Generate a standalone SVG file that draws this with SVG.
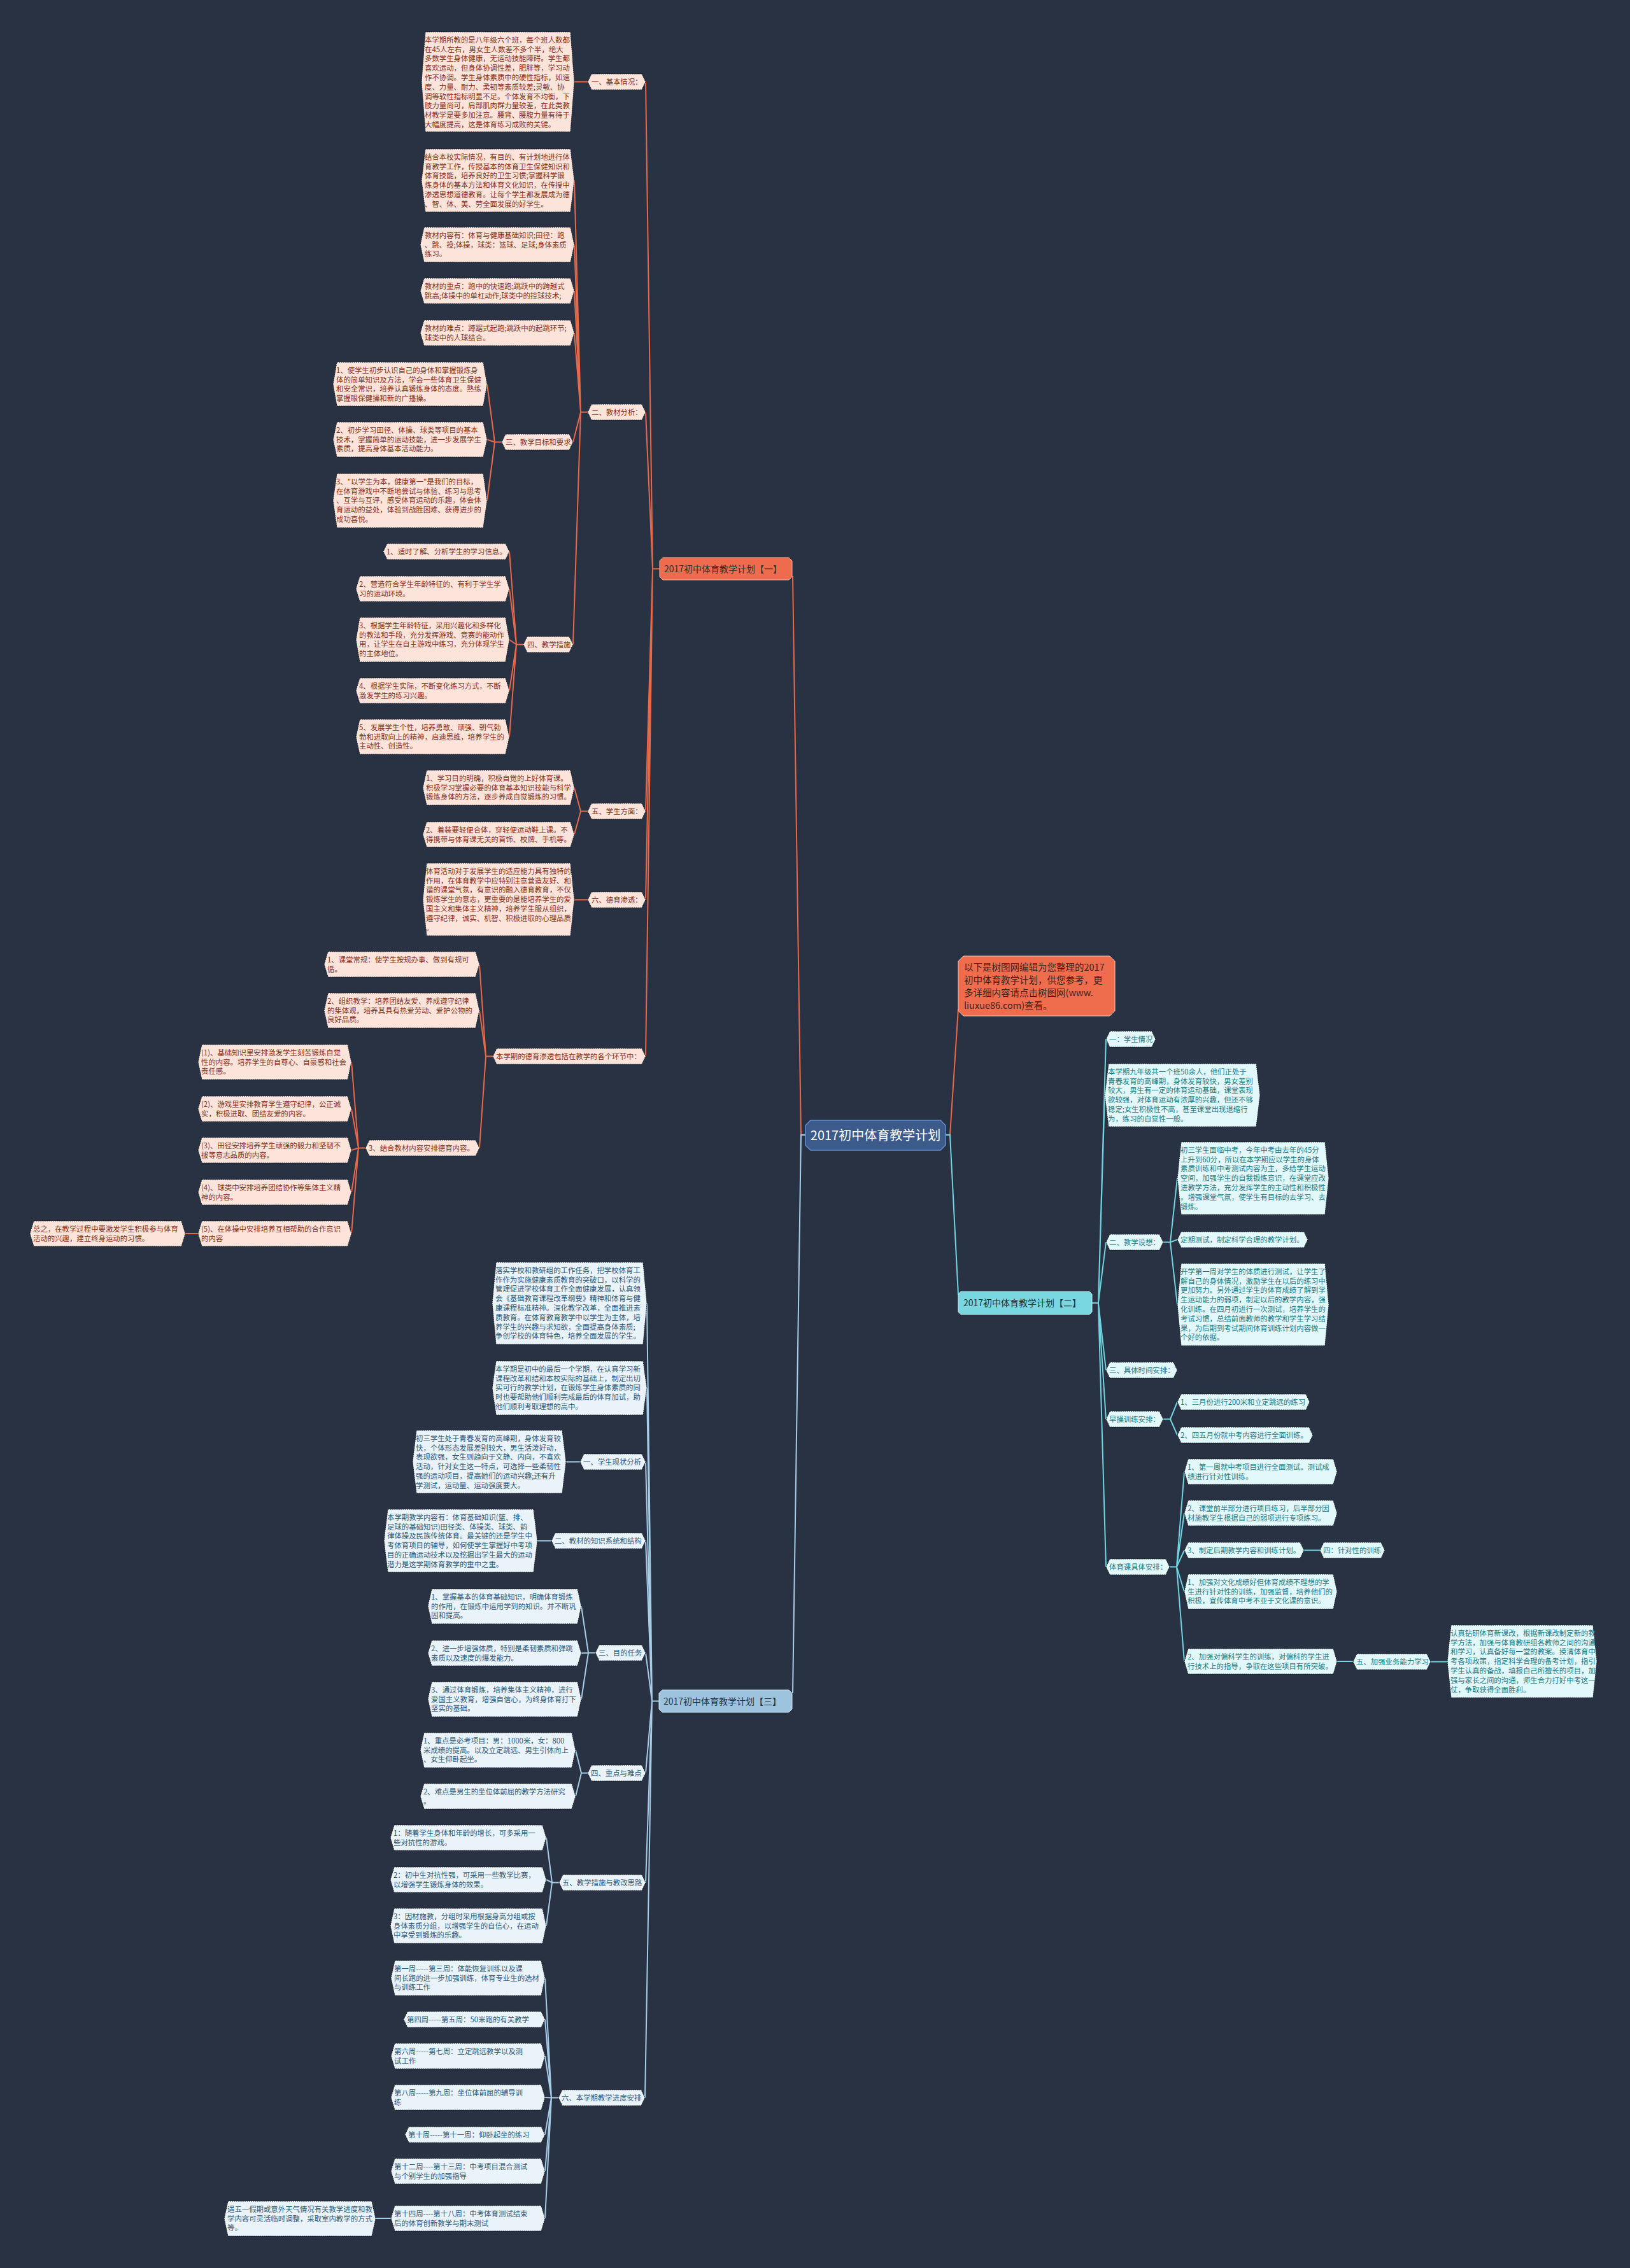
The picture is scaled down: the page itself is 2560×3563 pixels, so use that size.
<svg xmlns="http://www.w3.org/2000/svg" width="2560" height="3563" viewBox="0 0 2560 3563">
<style>
text{font-family:"Noto Sans CJK SC","Noto Sans",sans-serif;font-size:11.4px}
.n1{fill:#fde4db;stroke:#1c222d;stroke-width:1;stroke-dasharray:2 1}
.n2{fill:#e3f8fa;stroke:#1c222d;stroke-width:1;stroke-dasharray:2 1}
.n3{fill:#eaf3f9;stroke:#1c222d;stroke-width:1;stroke-dasharray:2 1}
.t1{fill:#8a2f17}
.t2{fill:#1b7b86}
.t3{fill:#2c5a7c}
.c1{fill:none;stroke:#e8694a;stroke-width:2;stroke-linejoin:round}
.c2{fill:none;stroke:#6fd4df;stroke-width:2;stroke-linejoin:round}
.c3{fill:none;stroke:#a7cce6;stroke-width:2;stroke-linejoin:round}
.m{font-size:14px}
</style>
<rect width="2560" height="3563" fill="#293243"/>

<g id="connectors">
<path class="c1" stroke-width="4" d="M1265,1783 H1258 L1245,905"/>
<path class="c3" stroke-width="4" d="M1265,1783 H1258 L1245,2660"/>
<path class="c1" stroke-width="4" d="M1485,1783 H1492 L1505,1585"/>
<path class="c2" stroke-width="4" d="M1485,1783 H1492 L1505,2034"/>
<!-- plan1 -->
<path class="c1" stroke-width="2.5" d="M1036,893.5 H1025 L1014,128.5 M1025,893.5 L1014,647.5 M1025,893.5 L1014,1274.5 M1025,893.5 L1014,1413.5 M1025,893.5 L1014,1659.5"/>
<path class="c1" d="M923,128.5 H902"/>
<path class="c1" d="M923,647.5 H912 L902,283.5 M912,647.5 L902,384.5 M912,647.5 L902,457 M912,647.5 L902,523 M912,647.5 L900,694.5 M912,647.5 L900,1012.5"/>
<path class="c1" d="M788,694.5 H777 L765,603.5 M777,694.5 L765,690.5 M777,694.5 L765,786.5"/>
<path class="c1" d="M822,1012.5 H811 L800,866.5 M811,1012.5 L800,925 M811,1012.5 L800,1005 M811,1012.5 L800,1085 M811,1012.5 L800,1157.5"/>
<path class="c1" d="M923,1274.5 H912 L902,1237.5 M912,1274.5 L902,1311"/>
<path class="c1" d="M923,1413.5 H902"/>
<path class="c1" d="M774,1659.5 H763 L753,1515 M763,1659.5 L753,1587.5 M763,1659.5 L753,1803.5"/>
<path class="c1" d="M574,1803.5 H563 L552,1668.5 M563,1803.5 L552,1742 M563,1803.5 L552,1807 M563,1803.5 L552,1873 M563,1803.5 L552,1938"/>
<path class="c1" d="M311,1938 H291"/>
<!-- plan2 -->
<path class="c2" stroke-width="2.5" d="M1714,2047 H1725 L1737,1632.5 M1725,2047 L1735,1720.5 M1725,2047 L1737,1951.5 M1725,2047 L1737,2152.5 M1725,2047 L1737,2229.5 M1725,2047 L1737,2461.5"/>
<path class="c2" d="M1827,1951.5 H1838 L1849,1851 M1838,1951.5 L1849,1947.5 M1838,1951.5 L1849,2049.5"/>
<path class="c2" d="M1827,2229.5 H1838 L1849,2202.5 M1838,2229.5 L1849,2254.5"/>
<path class="c2" d="M1837,2461.5 H1848 L1860,2312 M1848,2461.5 L1860,2377 M1848,2461.5 L1860,2435.5 M1848,2461.5 L1860,2500.5 M1848,2461.5 L1860,2610"/>
<path class="c2" d="M2048,2435.5 H2073 M2100,2610 H2125 M2247,2610.5 H2273"/>
<!-- plan3 -->
<path class="c3" stroke-width="2.5" d="M1035,2672.5 H1024 L1016,2047.5 M1024,2672.5 L1016,2180.5 M1024,2672.5 L1014,2296.5 M1024,2672.5 L1014,2420.5 M1024,2672.5 L1014,2596.5 M1024,2672.5 L1014,2785.5 M1024,2672.5 L1014,2957.5 M1024,2672.5 L1013,3295.5"/>
<path class="c3" d="M911,2296.5 H889 M866,2420.5 H844"/>
<path class="c3" d="M935,2596.5 H924 L913,2523.5 M924,2596.5 L913,2597 M924,2596.5 L913,2669.5"/>
<path class="c3" d="M923,2785.5 H913 L904,2749.5 M913,2785.5 L904,2822"/>
<path class="c3" d="M878,2957.5 H867 L858,2887 M867,2957.5 L858,2953 M867,2957.5 L858,3025.5"/>
<path class="c3" d="M877,3295.5 H866 L856,3107.5 M866,3295.5 L856,3172.5 M866,3295.5 L856,3230 M866,3295.5 L856,3295 M866,3295.5 L856,3353.5 M866,3295.5 L856,3411 M866,3295.5 L856,3485"/>
<path class="c3" d="M614,3485 H590"/>
</g>

<g id="root">
<polygon points="1273,1760 1477,1760 1485,1768 1485,1799 1477,1807 1273,1807 1265,1799 1265,1768" fill="#3c5a8a" stroke="#5f8fd6" stroke-width="1.5"/>
<text x="1375" y="1791" text-anchor="middle" fill="#ffffff" style="font-size:20px">2017初中体育教学计划</text>
</g>
<g id="intro">
<polygon points="1513,1502 1743,1502 1751,1510 1751,1588 1743,1596 1513,1596 1505,1588 1505,1510" fill="#ef6c4c" stroke="#f7c9bd" stroke-width="1"/>
<text x="1514" y="1524.5" fill="#3a2520" style="font-size:14.5px"><tspan x="1514">以下是树图网编辑为您整理的2017</tspan><tspan x="1514" dy="20">初中体育教学计划，供您参考，更</tspan><tspan x="1514" dy="20">多详细内容请点击树图网(www.</tspan><tspan x="1514" dy="20">liuxue86.com)查看。</tspan></text>
</g>

<g id="plan1">
<polygon points="1041,876 1239,876 1244,881 1244,906 1239,911 1041,911 1036,906 1036,881" fill="#ee6b4e" stroke="#f6b3a2" stroke-width="1"/>
<text class="m" x="1043" y="898.8" fill="#2f2f2f">2017初中体育教学计划【一】</text>
</g>
<g id="p1-basic"><polygon class="n1" points="929,116 1008,116 1014,128.5 1008,141 929,141 923,128.5"/><text class="t1" x="929" y="132.8">一、基本情况：</text></g>
<g id="p1-basic-text"><polygon class="n1" points="668,50 896,50 902,128.5 896,207 668,207 662,128.5"/><text class="t1" x="667" y="66.7"><tspan x="667">本学期所教的是八年级六个班，每个班人数都</tspan><tspan x="667" dy="14.8">在45人左右，男女生人数差不多个半，绝大</tspan><tspan x="667" dy="14.8">多数学生身体健康，无运动技能障碍。学生都</tspan><tspan x="667" dy="14.8">喜欢运动，但身体协调性差，肥胖等，学习动</tspan><tspan x="667" dy="14.8">作不协调。学生身体素质中的硬性指标，如速</tspan><tspan x="667" dy="14.8">度、力量、耐力、柔韧等素质较差;灵敏、协</tspan><tspan x="667" dy="14.8">调等软性指标明显不足。个体发育不均衡，下</tspan><tspan x="667" dy="14.8">肢力量尚可，肩部肌肉群力量较差，在此类教</tspan><tspan x="667" dy="14.8">材教学是要多加注意。腰背、腰腹力量有待于</tspan><tspan x="667" dy="14.8">大幅度提高，这是体育练习成败的关键。</tspan></text></g>
<g id="p1-mat"><polygon class="n1" points="929,635 1008,635 1014,647.5 1008,660 929,660 923,647.5"/><text class="t1" x="929" y="651.8">二、教材分析：</text></g>
<g id="p1-mat-a"><polygon class="n1" points="668,234 896,234 902,283.5 896,333 668,333 662,283.5"/><text class="t1" x="667" y="250.7"><tspan x="667">结合本校实际情况，有目的、有计划地进行体</tspan><tspan x="667" dy="14.8">育教学工作，传授基本的体育卫生保健知识和</tspan><tspan x="667" dy="14.8">体育技能，培养良好的卫生习惯;掌握科学锻</tspan><tspan x="667" dy="14.8">炼身体的基本方法和体育文化知识，在传授中</tspan><tspan x="667" dy="14.8">渗透思想道德教育。让每个学生都发展成为德</tspan><tspan x="667" dy="14.8">、智、体、美、劳全面发展的好学生。</tspan></text></g>
<g id="p1-mat-b"><polygon class="n1" points="666,357 896,357 902,384.5 896,412 666,412 660,384.5"/><text class="t1" x="667" y="373.7"><tspan x="667">教材内容有：体育与健康基础知识;田径：跑</tspan><tspan x="667" dy="14.8">、跳、投;体操，球类：篮球、足球;身体素质</tspan><tspan x="667" dy="14.8">练习。</tspan></text></g>
<g id="p1-mat-c"><polygon class="n1" points="666,437 896,437 902,457 896,477 666,477 660,457"/><text class="t1" x="667" y="453.7"><tspan x="667">教材的重点：跑中的快速跑;跳跃中的跨越式</tspan><tspan x="667" dy="14.8">跳高;体操中的单杠动作;球类中的控球技术;</tspan></text></g>
<g id="p1-mat-d"><polygon class="n1" points="666,503 896,503 902,523 896,543 666,543 660,523"/><text class="t1" x="667" y="519.7"><tspan x="667">教材的难点：蹲踞式起跑;跳跃中的起跳环节;</tspan><tspan x="667" dy="14.8">球类中的人球结合。</tspan></text></g>
<g id="p1-goal"><polygon class="n1" points="794,682 894,682 900,694.5 894,707 794,707 788,694.5"/><text class="t1" x="794" y="698.8">三、教学目标和要求</text></g>
<g id="p1-goal-1"><polygon class="n1" points="529,569 759,569 765,603.5 759,638 529,638 523,603.5"/><text class="t1" x="528" y="585.7"><tspan x="528">1、使学生初步认识自己的身体和掌握锻炼身</tspan><tspan x="528" dy="14.8">体的简单知识及方法，学会一些体育卫生保健</tspan><tspan x="528" dy="14.8">和安全常识，培养认真锻炼身体的态度。熟练</tspan><tspan x="528" dy="14.8">掌握眼保健操和新的广播操。</tspan></text></g>
<g id="p1-goal-2"><polygon class="n1" points="529,663 759,663 765,690.5 759,718 529,718 523,690.5"/><text class="t1" x="528" y="679.7"><tspan x="528">2、初步学习田径、体操、球类等项目的基本</tspan><tspan x="528" dy="14.8">技术，掌握简单的运动技能，进一步发展学生</tspan><tspan x="528" dy="14.8">素质，提高身体基本活动能力。</tspan></text></g>
<g id="p1-goal-3"><polygon class="n1" points="529,744 759,744 765,786.5 759,829 529,829 523,786.5"/><text class="t1" x="528" y="760.7"><tspan x="528">3、"以学生为本，健康第一"是我们的目标，</tspan><tspan x="528" dy="14.8">在体育游戏中不断地尝试与体验、练习与思考</tspan><tspan x="528" dy="14.8">、互学与互评，感受体育运动的乐趣，体会体</tspan><tspan x="528" dy="14.8">育运动的益处，体验到战胜困难、获得进步的</tspan><tspan x="528" dy="14.8">成功喜悦。</tspan></text></g>
<g id="p1-meas"><polygon class="n1" points="828,1000 894,1000 900,1012.5 894,1025 828,1025 822,1012.5"/><text class="t1" x="828" y="1016.8">四、教学措施</text></g>
<g id="p1-meas-1"><polygon class="n1" points="608,854 794,854 800,866.5 794,879 608,879 602,866.5"/><text class="t1" x="607" y="870.8">1、适时了解、分析学生的学习信息。</text></g>
<g id="p1-meas-2"><polygon class="n1" points="565,905 794,905 800,925 794,945 565,945 559,925"/><text class="t1" x="564" y="921.7"><tspan x="564">2、营造符合学生年龄特征的、有利于学生学</tspan><tspan x="564" dy="14.8">习的运动环境。</tspan></text></g>
<g id="p1-meas-3"><polygon class="n1" points="565,970 794,970 800,1005 794,1040 565,1040 559,1005"/><text class="t1" x="564" y="986.7"><tspan x="564">3、根据学生年龄特征，采用兴趣化和多样化</tspan><tspan x="564" dy="14.8">的教法和手段，充分发挥游戏、竞赛的能动作</tspan><tspan x="564" dy="14.8">用，让学生在自主游戏中练习，充分体现学生</tspan><tspan x="564" dy="14.8">的主体地位。</tspan></text></g>
<g id="p1-meas-4"><polygon class="n1" points="565,1065 794,1065 800,1085 794,1105 565,1105 559,1085"/><text class="t1" x="564" y="1081.7"><tspan x="564">4、根据学生实际，不断变化练习方式，不断</tspan><tspan x="564" dy="14.8">激发学生的练习兴趣。</tspan></text></g>
<g id="p1-meas-5"><polygon class="n1" points="565,1130 794,1130 800,1157.5 794,1185 565,1185 559,1157.5"/><text class="t1" x="564" y="1146.7"><tspan x="564">5、发展学生个性，培养勇敢、顽强、朝气勃</tspan><tspan x="564" dy="14.8">勃和进取向上的精神，启迪思维，培养学生的</tspan><tspan x="564" dy="14.8">主动性、创造性。</tspan></text></g>
<g id="p1-stu"><polygon class="n1" points="929,1262 1008,1262 1014,1274.5 1008,1287 929,1287 923,1274.5"/><text class="t1" x="929" y="1278.8">五、学生方面：</text></g>
<g id="p1-stu-1"><polygon class="n1" points="670,1210 896,1210 902,1237.5 896,1265 670,1265 664,1237.5"/><text class="t1" x="669" y="1226.7"><tspan x="669">1、学习目的明确，积极自觉的上好体育课。</tspan><tspan x="669" dy="14.8">积极学习掌握必要的体育基本知识技能与科学</tspan><tspan x="669" dy="14.8">锻炼身体的方法，逐步养成自觉锻炼的习惯。</tspan></text></g>
<g id="p1-stu-2"><polygon class="n1" points="670,1291 896,1291 902,1311 896,1331 670,1331 664,1311"/><text class="t1" x="669" y="1307.7"><tspan x="669">2、着装要轻便合体，穿轻便运动鞋上课。不</tspan><tspan x="669" dy="14.8">得携带与体育课无关的首饰、校牌、手机等。</tspan></text></g>
<g id="p1-moral"><polygon class="n1" points="929,1401 1008,1401 1014,1413.5 1008,1426 929,1426 923,1413.5"/><text class="t1" x="929" y="1417.8">六、德育渗透：</text></g>
<g id="p1-moral-text"><polygon class="n1" points="670,1356 896,1356 902,1413 896,1470 670,1470 664,1413"/><text class="t1" x="669" y="1372.7"><tspan x="669">体育活动对于发展学生的适应能力具有独特的</tspan><tspan x="669" dy="14.8">作用，在体育教学中应特别注意营造友好、和</tspan><tspan x="669" dy="14.8">谐的课堂气氛，有意识的融入德育教育，不仅</tspan><tspan x="669" dy="14.8">锻炼学生的意志，更重要的是能培养学生的爱</tspan><tspan x="669" dy="14.8">国主义和集体主义精神，培养学生服从组织，</tspan><tspan x="669" dy="14.8">遵守纪律，诚实、机智、积极进取的心理品质</tspan><tspan x="669" dy="14.8">。</tspan></text></g>
<g id="p1-eth"><polygon class="n1" points="780,1647 1008,1647 1014,1659.5 1008,1672 780,1672 774,1659.5"/><text class="t1" x="779" y="1663.8">本学期的德育渗透包括在教学的各个环节中：</text></g>
<g id="p1-eth-1"><polygon class="n1" points="515,1495 747,1495 753,1515 747,1535 515,1535 509,1515"/><text class="t1" x="514" y="1511.7"><tspan x="514">1、课堂常规：使学生按规办事、做到有规可</tspan><tspan x="514" dy="14.8">循。</tspan></text></g>
<g id="p1-eth-2"><polygon class="n1" points="515,1560 747,1560 753,1587.5 747,1615 515,1615 509,1587.5"/><text class="t1" x="514" y="1576.7"><tspan x="514">2、组织教学：培养团结友爱、养成遵守纪律</tspan><tspan x="514" dy="14.8">的集体观，培养其具有热爱劳动、爱护公物的</tspan><tspan x="514" dy="14.8">良好品质。</tspan></text></g>
<g id="p1-eth-3"><polygon class="n1" points="580,1791 747,1791 753,1803.5 747,1816 580,1816 574,1803.5"/><text class="t1" x="579" y="1807.8">3、结合教材内容安排德育内容。</text></g>
<g id="p1-eth-3a"><polygon class="n1" points="317,1641 546,1641 552,1668.5 546,1696 317,1696 311,1668.5"/><text class="t1" x="316" y="1657.7"><tspan x="316">(1)、基础知识里安排激发学生刻苦锻炼自觉</tspan><tspan x="316" dy="14.8">性的内容。培养学生的自尊心、自豪感和社会</tspan><tspan x="316" dy="14.8">责任感。</tspan></text></g>
<g id="p1-eth-3b"><polygon class="n1" points="317,1722 546,1722 552,1742 546,1762 317,1762 311,1742"/><text class="t1" x="316" y="1738.7"><tspan x="316">(2)、游戏里安排教育学生遵守纪律，公正诚</tspan><tspan x="316" dy="14.8">实，积极进取、团结友爱的内容。</tspan></text></g>
<g id="p1-eth-3c"><polygon class="n1" points="317,1787 546,1787 552,1807 546,1827 317,1827 311,1807"/><text class="t1" x="316" y="1803.7"><tspan x="316">(3)、田径安排培养学生顽强的毅力和坚韧不</tspan><tspan x="316" dy="14.8">拔等意志品质的内容。</tspan></text></g>
<g id="p1-eth-3d"><polygon class="n1" points="317,1853 546,1853 552,1873 546,1893 317,1893 311,1873"/><text class="t1" x="316" y="1869.7"><tspan x="316">(4)、球类中安排培养团结协作等集体主义精</tspan><tspan x="316" dy="14.8">神的内容。</tspan></text></g>
<g id="p1-eth-3e"><polygon class="n1" points="317,1918 546,1918 552,1938 546,1958 317,1958 311,1938"/><text class="t1" x="316" y="1934.7"><tspan x="316">(5)、在体操中安排培养互相帮助的合作意识</tspan><tspan x="316" dy="14.8">的内容</tspan></text></g>
<g id="p1-eth-sum"><polygon class="n1" points="53,1918 285,1918 291,1938 285,1958 53,1958 47,1938"/><text class="t1" x="52" y="1934.7"><tspan x="52">总之，在教学过程中要激发学生积极参与体育</tspan><tspan x="52" dy="14.8">活动的兴趣，建立终身运动的习惯。</tspan></text></g>

<g id="plan2">
<polygon points="1509,2029 1711,2029 1715,2033 1715,2061 1711,2065 1509,2065 1505,2061 1505,2033" fill="#78d7e1" stroke="#c4f0f4" stroke-width="1"/>
<text class="m" x="1513" y="2052.3" fill="#1f2d35">2017初中体育教学计划【二】</text>
</g>
<g id="p2-stu"><polygon class="n2" points="1743,1620 1809,1620 1815,1632.5 1809,1645 1743,1645 1737,1632.5"/><text class="t2" x="1742" y="1636.8">一：学生情况</text></g>
<g id="p2-stu-text"><polygon class="n2" points="1741,1671 1973,1671 1979,1720.5 1973,1770 1741,1770 1735,1720.5"/><text class="t2" x="1740" y="1687.7"><tspan x="1740">本学期九年级共一个班50余人，他们正处于</tspan><tspan x="1740" dy="14.8">青春发育的高峰期，身体发育较快，男女差别</tspan><tspan x="1740" dy="14.8">较大，男生有一定的体育运动基础，课堂表现</tspan><tspan x="1740" dy="14.8">欲较强，对体育运动有浓厚的兴趣，但还不够</tspan><tspan x="1740" dy="14.8">稳定;女生积极性不高，甚至课堂出现退缩行</tspan><tspan x="1740" dy="14.8">为，练习的自觉性一般。</tspan></text></g>
<g id="p2-idea"><polygon class="n2" points="1743,1939 1821,1939 1827,1951.5 1821,1964 1743,1964 1737,1951.5"/><text class="t2" x="1742" y="1955.8">二、教学设想：</text></g>
<g id="p2-idea-a"><polygon class="n2" points="1855,1794 2081,1794 2087,1851 2081,1908 1855,1908 1849,1851"/><text class="t2" x="1854" y="1810.7"><tspan x="1854">初三学生面临中考，今年中考由去年的45分</tspan><tspan x="1854" dy="14.8">上升到60分，所以在本学期应以学生的身体</tspan><tspan x="1854" dy="14.8">素质训练和中考测试内容为主，多给学生运动</tspan><tspan x="1854" dy="14.8">空间，加强学生的自我锻炼意识，在课堂应改</tspan><tspan x="1854" dy="14.8">进教学方法，充分发挥学生的主动性和积极性</tspan><tspan x="1854" dy="14.8">。增强课堂气氛，使学生有目标的去学习、去</tspan><tspan x="1854" dy="14.8">锻炼。</tspan></text></g>
<g id="p2-idea-b"><polygon class="n2" points="1855,1935 2048,1935 2054,1947.5 2048,1960 1855,1960 1849,1947.5"/><text class="t2" x="1854" y="1951.8">定期测试，制定科学合理的教学计划。</text></g>
<g id="p2-idea-c"><polygon class="n2" points="1855,1985 2081,1985 2087,2049.5 2081,2114 1855,2114 1849,2049.5"/><text class="t2" x="1854" y="2001.7"><tspan x="1854">开学第一周对学生的体质进行测试，让学生了</tspan><tspan x="1854" dy="14.8">解自己的身体情况，激励学生在以后的练习中</tspan><tspan x="1854" dy="14.8">更加努力。另外通过学生的体育成绩了解到学</tspan><tspan x="1854" dy="14.8">生运动能力的弱项，制定以后的教学内容，强</tspan><tspan x="1854" dy="14.8">化训练。在四月初进行一次测试，培养学生的</tspan><tspan x="1854" dy="14.8">考试习惯，总结前面教师的教学和学生学习结</tspan><tspan x="1854" dy="14.8">果，为后期到考试期间体育训练计划内容做一</tspan><tspan x="1854" dy="14.8">个好的依据。</tspan></text></g>
<g id="p2-time"><polygon class="n2" points="1743,2140 1843,2140 1849,2152.5 1843,2165 1743,2165 1737,2152.5"/><text class="t2" x="1742" y="2156.8">三、具体时间安排：</text></g>
<g id="p2-morning"><polygon class="n2" points="1743,2217 1821,2217 1827,2229.5 1821,2242 1743,2242 1737,2229.5"/><text class="t2" x="1742" y="2233.8">早操训练安排：</text></g>
<g id="p2-morning-1"><polygon class="n2" points="1855,2190 2051,2190 2057,2202.5 2051,2215 1855,2215 1849,2202.5"/><text class="t2" x="1854" y="2206.8">1、三月份进行200米和立定跳远的练习</text></g>
<g id="p2-morning-2"><polygon class="n2" points="1855,2242 2056,2242 2062,2254.5 2056,2267 1855,2267 1849,2254.5"/><text class="t2" x="1854" y="2258.8">2、四五月份就中考内容进行全面训练。</text></g>
<g id="p2-pe"><polygon class="n2" points="1743,2449 1831,2449 1837,2461.5 1831,2474 1743,2474 1737,2461.5"/><text class="t2" x="1742" y="2465.8">体育课具体安排：</text></g>
<g id="p2-pe-1"><polygon class="n2" points="1866,2292 2094,2292 2100,2312 2094,2332 1866,2332 1860,2312"/><text class="t2" x="1865" y="2308.7"><tspan x="1865">1、第一周就中考项目进行全面测试。测试成</tspan><tspan x="1865" dy="14.8">绩进行针对性训练。</tspan></text></g>
<g id="p2-pe-2"><polygon class="n2" points="1866,2357 2094,2357 2100,2377 2094,2397 1866,2397 1860,2377"/><text class="t2" x="1865" y="2373.7"><tspan x="1865">2、课堂前半部分进行项目练习，后半部分因</tspan><tspan x="1865" dy="14.8">材施教学生根据自己的弱项进行专项练习。</tspan></text></g>
<g id="p2-pe-3"><polygon class="n2" points="1866,2423 2042,2423 2048,2435.5 2042,2448 1866,2448 1860,2435.5"/><text class="t2" x="1865" y="2439.8">3、制定后期教学内容和训练计划。</text></g>
<g id="p2-target"><polygon class="n2" points="2079,2423 2169,2423 2175,2435.5 2169,2448 2079,2448 2073,2435.5"/><text class="t2" x="2078" y="2439.8">四：针对性的训练</text></g>
<g id="p2-pe-4"><polygon class="n2" points="1866,2473 2094,2473 2100,2500.5 2094,2528 1866,2528 1860,2500.5"/><text class="t2" x="1865" y="2489.7"><tspan x="1865">1、加强对文化成绩好但体育成绩不理想的学</tspan><tspan x="1865" dy="14.8">生进行针对性的训练，加强监督，培养他们的</tspan><tspan x="1865" dy="14.8">积极，宣传体育中考不亚于文化课的意识。</tspan></text></g>
<g id="p2-pe-5"><polygon class="n2" points="1866,2590 2094,2590 2100,2610 2094,2630 1866,2630 1860,2610"/><text class="t2" x="1865" y="2606.7"><tspan x="1865">2、加强对偏科学生的训练，对偏科的学生进</tspan><tspan x="1865" dy="14.8">行技术上的指导，争取在这些项目有所突破。</tspan></text></g>
<g id="p2-biz"><polygon class="n2" points="2131,2598 2241,2598 2247,2610.5 2241,2623 2131,2623 2125,2610.5"/><text class="t2" x="2130" y="2614.8">五、加强业务能力学习</text></g>
<g id="p2-biz-text"><polygon class="n2" points="2279,2553 2502,2553 2508,2610 2502,2667 2279,2667 2273,2610"/><text class="t2" x="2278" y="2569.7"><tspan x="2278">认真钻研体育新课改，根据新课改制定新的教</tspan><tspan x="2278" dy="14.8">学方法，加强与体育教研组各教师之间的沟通</tspan><tspan x="2278" dy="14.8">和学习，认真备好每一堂的教案。摸清体育中</tspan><tspan x="2278" dy="14.8">考各项政策，指定科学合理的备考计划，指引</tspan><tspan x="2278" dy="14.8">学生认真的备战，填报自己所擅长的项目，加</tspan><tspan x="2278" dy="14.8">强与家长之间的沟通，师生合力打好中考这一</tspan><tspan x="2278" dy="14.8">仗，争取获得全面胜利。</tspan></text></g>

<g id="plan3">
<polygon points="1040,2655 1239,2655 1244,2660 1244,2685 1239,2690 1040,2690 1035,2685 1035,2660" fill="#9dc3de" stroke="#cfe3f1" stroke-width="1"/>
<text class="m" x="1042" y="2677.8" fill="#26323f">2017初中体育教学计划【三】</text>
</g>
<g id="p3-a"><polygon class="n3" points="779,1983 1010,1983 1016,2047.5 1010,2112 779,2112 773,2047.5"/><text class="t3" x="778" y="1999.7"><tspan x="778">落实学校和教研组的工作任务，把学校体育工</tspan><tspan x="778" dy="14.8">作作为实施健康素质教育的突破口，以科学的</tspan><tspan x="778" dy="14.8">管理促进学校体育工作全面健康发展，认真领</tspan><tspan x="778" dy="14.8">会《基础教育课程改革纲要》精神和体育与健</tspan><tspan x="778" dy="14.8">康课程标准精神。深化教学改革，全面推进素</tspan><tspan x="778" dy="14.8">质教育。在体育教育教学中以学生为主体，培</tspan><tspan x="778" dy="14.8">养学生的兴趣与求知欲，全面提高身体素质;</tspan><tspan x="778" dy="14.8">争创学校的体育特色，培养全面发展的学生。</tspan></text></g>
<g id="p3-b"><polygon class="n3" points="779,2138 1010,2138 1016,2180.5 1010,2223 779,2223 773,2180.5"/><text class="t3" x="778" y="2154.7"><tspan x="778">本学期是初中的最后一个学期，在认真学习新</tspan><tspan x="778" dy="14.8">课程改革和结和本校实际的基础上，制定出切</tspan><tspan x="778" dy="14.8">实可行的教学计划，在锻炼学生身体素质的同</tspan><tspan x="778" dy="14.8">时也要帮助他们顺利完成最后的体育加试，助</tspan><tspan x="778" dy="14.8">他们顺利考取理想的高中。</tspan></text></g>
<g id="p3-stu"><polygon class="n3" points="917,2284 1008,2284 1014,2296.5 1008,2309 917,2309 911,2296.5"/><text class="t3" x="916" y="2300.8">一、学生现状分析</text></g>
<g id="p3-stu-text"><polygon class="n3" points="654,2247 883,2247 889,2296.5 883,2346 654,2346 648,2296.5"/><text class="t3" x="653" y="2263.7"><tspan x="653">初三学生处于青春发育的高峰期，身体发育较</tspan><tspan x="653" dy="14.8">快，个体形态发展差别较大，男生活泼好动，</tspan><tspan x="653" dy="14.8">表现欲强，女生则趋向于文静、内向，不喜欢</tspan><tspan x="653" dy="14.8">活动，针对女生这一特点，可选择一些柔韧性</tspan><tspan x="653" dy="14.8">强的运动项目，提高她们的运动兴趣;还有升</tspan><tspan x="653" dy="14.8">学测试，运动量、运动强度要大。</tspan></text></g>
<g id="p3-mat"><polygon class="n3" points="872,2408 1008,2408 1014,2420.5 1008,2433 872,2433 866,2420.5"/><text class="t3" x="871" y="2424.8">二、教材的知识系统和结构</text></g>
<g id="p3-mat-text"><polygon class="n3" points="609,2371 838,2371 844,2420.5 838,2470 609,2470 603,2420.5"/><text class="t3" x="608" y="2387.7"><tspan x="608">本学期教学内容有：体育基础知识(篮、排、</tspan><tspan x="608" dy="14.8">足球的基础知识)田径类、体操类、球类、韵</tspan><tspan x="608" dy="14.8">律体操及民族传统体育。最关键的还是学生中</tspan><tspan x="608" dy="14.8">考体育项目的辅导，如何使学生掌握好中考项</tspan><tspan x="608" dy="14.8">目的正确运动技术以及挖掘出学生最大的运动</tspan><tspan x="608" dy="14.8">潜力是这学期体育教学的重中之重。</tspan></text></g>
<g id="p3-task"><polygon class="n3" points="941,2584 1008,2584 1014,2596.5 1008,2609 941,2609 935,2596.5"/><text class="t3" x="940" y="2600.8">三、目的任务</text></g>
<g id="p3-task-1"><polygon class="n3" points="678,2496 907,2496 913,2523.5 907,2551 678,2551 672,2523.5"/><text class="t3" x="677" y="2512.7"><tspan x="677">1、掌握基本的体育基础知识，明确体育锻炼</tspan><tspan x="677" dy="14.8">的作用，在锻炼中运用学到的知识。并不断巩</tspan><tspan x="677" dy="14.8">固和提高。</tspan></text></g>
<g id="p3-task-2"><polygon class="n3" points="678,2577 907,2577 913,2597 907,2617 678,2617 672,2597"/><text class="t3" x="677" y="2593.7"><tspan x="677">2、进一步增强体质，特别是柔韧素质和弹跳</tspan><tspan x="677" dy="14.8">素质以及速度的爆发能力。</tspan></text></g>
<g id="p3-task-3"><polygon class="n3" points="678,2642 907,2642 913,2669.5 907,2697 678,2697 672,2669.5"/><text class="t3" x="677" y="2658.7"><tspan x="677">3、通过体育锻炼，培养集体主义精神，进行</tspan><tspan x="677" dy="14.8">爱国主义教育，增强自信心，为终身体育打下</tspan><tspan x="677" dy="14.8">坚实的基础。</tspan></text></g>
<g id="p3-key"><polygon class="n3" points="929,2773 1008,2773 1014,2785.5 1008,2798 929,2798 923,2785.5"/><text class="t3" x="928" y="2789.8">四、重点与难点</text></g>
<g id="p3-key-1"><polygon class="n3" points="666,2722 898,2722 904,2749.5 898,2777 666,2777 660,2749.5"/><text class="t3" x="665" y="2738.7"><tspan x="665">1、重点是必考项目：男：1000米，女：800</tspan><tspan x="665" dy="14.8">米成绩的提高。以及立定跳远、男生引体向上</tspan><tspan x="665" dy="14.8">、女生仰卧起坐。</tspan></text></g>
<g id="p3-key-2"><polygon class="n3" points="666,2802 898,2802 904,2822 898,2842 666,2842 660,2822"/><text class="t3" x="665" y="2818.7"><tspan x="665">2、难点是男生的坐位体前屈的教学方法研究</tspan><tspan x="665" dy="14.8">。</tspan></text></g>
<g id="p3-meas"><polygon class="n3" points="884,2945 1008,2945 1014,2957.5 1008,2970 884,2970 878,2957.5"/><text class="t3" x="883" y="2961.8">五、教学措施与教改思路</text></g>
<g id="p3-meas-1"><polygon class="n3" points="619,2867 852,2867 858,2887 852,2907 619,2907 613,2887"/><text class="t3" x="618" y="2883.7"><tspan x="618">1：随着学生身体和年龄的增长，可多采用一</tspan><tspan x="618" dy="14.8">些对抗性的游戏。</tspan></text></g>
<g id="p3-meas-2"><polygon class="n3" points="619,2933 852,2933 858,2953 852,2973 619,2973 613,2953"/><text class="t3" x="618" y="2949.7"><tspan x="618">2：初中生对抗性强，可采用一些教学比赛，</tspan><tspan x="618" dy="14.8">以增强学生锻炼身体的效果。</tspan></text></g>
<g id="p3-meas-3"><polygon class="n3" points="619,2998 852,2998 858,3025.5 852,3053 619,3053 613,3025.5"/><text class="t3" x="618" y="3014.7"><tspan x="618">3：因材施教，分组时采用根据身高分组或按</tspan><tspan x="618" dy="14.8">身体素质分组，以增强学生的自信心，在运动</tspan><tspan x="618" dy="14.8">中享受到锻炼的乐趣。</tspan></text></g>
<g id="p3-sched"><polygon class="n3" points="883,3283 1007,3283 1013,3295.5 1007,3308 883,3308 877,3295.5"/><text class="t3" x="882" y="3299.8">六、本学期教学进度安排</text></g>
<g id="p3-sched-1"><polygon class="n3" points="620,3080 850,3080 856,3107.5 850,3135 620,3135 614,3107.5"/><text class="t3" x="619" y="3096.7"><tspan x="619">第一周-----第三周：体能恢复训练以及课</tspan><tspan x="619" dy="14.8">间长跑的进一步加强训练，体育专业生的选材</tspan><tspan x="619" dy="14.8">与训练工作</tspan></text></g>
<g id="p3-sched-2"><polygon class="n3" points="640,3160 850,3160 856,3172.5 850,3185 640,3185 634,3172.5"/><text class="t3" x="639" y="3176.8">第四周-----第五周：50米跑的有关教学</text></g>
<g id="p3-sched-3"><polygon class="n3" points="620,3210 850,3210 856,3230 850,3250 620,3250 614,3230"/><text class="t3" x="619" y="3226.7"><tspan x="619">第六周-----第七周：立定跳远教学以及测</tspan><tspan x="619" dy="14.8">试工作</tspan></text></g>
<g id="p3-sched-4"><polygon class="n3" points="620,3275 850,3275 856,3295 850,3315 620,3315 614,3295"/><text class="t3" x="619" y="3291.7"><tspan x="619">第八周-----第九周：坐位体前屈的辅导训</tspan><tspan x="619" dy="14.8">练</tspan></text></g>
<g id="p3-sched-5"><polygon class="n3" points="642,3341 850,3341 856,3353.5 850,3366 642,3366 636,3353.5"/><text class="t3" x="641" y="3357.8">第十周-----第十一周：仰卧起坐的练习</text></g>
<g id="p3-sched-6"><polygon class="n3" points="620,3391 850,3391 856,3411 850,3431 620,3431 614,3411"/><text class="t3" x="619" y="3407.7"><tspan x="619">第十二周----第十三周：中考项目混合测试</tspan><tspan x="619" dy="14.8">与个别学生的加强指导</tspan></text></g>
<g id="p3-sched-7"><polygon class="n3" points="620,3465 850,3465 856,3485 850,3505 620,3505 614,3485"/><text class="t3" x="619" y="3481.7"><tspan x="619">第十四周----第十八周：中考体育测试结束</tspan><tspan x="619" dy="14.8">后的体育创新教学与期末测试</tspan></text></g>
<g id="p3-sched-note"><polygon class="n3" points="358,3458 584,3458 590,3485.5 584,3513 358,3513 352,3485.5"/><text class="t3" x="357" y="3474.7"><tspan x="357">遇五一假期或意外天气情况有关教学进度和教</tspan><tspan x="357" dy="14.8">学内容可灵活临时调整，采取室内教学的方式</tspan><tspan x="357" dy="14.8">等。</tspan></text></g>
</svg>
